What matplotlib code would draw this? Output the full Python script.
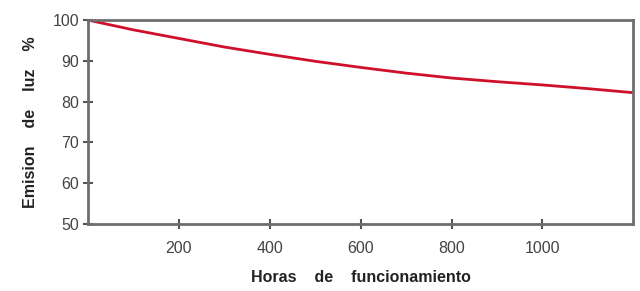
import matplotlib
matplotlib.use("Agg")
import matplotlib.pyplot as plt

hours = [0, 100, 200, 300, 400, 500, 600, 700, 800, 900, 1000, 1100, 1200]
emission = [100, 97.6, 95.5, 93.4, 91.6, 89.9, 88.4, 87.0, 85.8, 84.9, 84.1, 83.2, 82.2]
xticks = [200, 400, 600, 800, 1000]
yticks = [50, 60, 70, 80, 90, 100]

plt.rcParams['font.family'] = ['Liberation Sans', 'DejaVu Sans']
fig = plt.figure(figsize=(6.4, 2.91), dpi=100)
ax = fig.add_axes([0.1375, 0.230, 0.852, 0.701])
ax.plot(hours, emission, color='#d0102a', lw=2.0, solid_capstyle='butt')
ax.set_xlim(0, 1200)
ax.set_ylim(50, 100)
ax.set_xticks(xticks)
ax.set_yticks(yticks)
for s in ax.spines.values():
    s.set_color('#6e6e6e')
    s.set_linewidth(2.0)
ax.tick_params(direction='inout', length=7, width=1.5, color='#555555',
               labelsize=11.5, labelcolor='#444444')
ax.tick_params(axis='y', pad=3)
ax.tick_params(axis='x', pad=9)
ax.set_xlabel('Horas    de    funcionamiento', fontsize=11.5, fontweight='bold',
              color='#222222', labelpad=10)
ax.set_ylabel('Emision    de    luz    %', fontsize=11.5, fontweight='bold',
              color='#222222', labelpad=10)
fig.savefig('out.png', dpi=100, facecolor='white')
